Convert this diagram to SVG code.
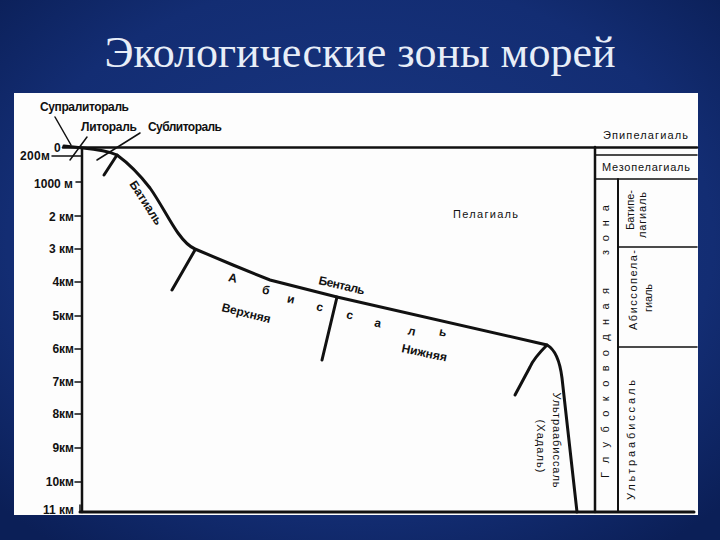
<svg xmlns="http://www.w3.org/2000/svg" width="720" height="540" viewBox="0 0 720 540">
<defs>
<radialGradient id="bg" cx="50%" cy="45%" r="70%">
<stop offset="0" stop-color="#1a3884"/>
<stop offset="0.7" stop-color="#132d73"/>
<stop offset="1" stop-color="#0b1f57"/>
</radialGradient>
<style>
.lbl{font-family:"Liberation Sans",Arial,sans-serif;font-size:12px;font-weight:bold;fill:#111}
.dep{font-family:"Liberation Sans",Arial,sans-serif;font-size:12px;font-weight:bold;fill:#111;text-anchor:end}
.thin{font-family:"Liberation Sans",Arial,sans-serif;font-size:11px;fill:#111}
.ln{stroke:#111;fill:none;stroke-linecap:round}
</style>
</defs>
<rect width="720" height="540" fill="url(#bg)"/>
<text x="360" y="67" text-anchor="middle" font-family="Liberation Serif, serif" font-size="44" fill="#e8eef8">Экологические зоны морей</text>
<rect x="14" y="93" width="684" height="422" fill="#fdfdfd"/>

<g id="connectors">
<line class="ln" x1="63" y1="147.5" x2="697" y2="147.5" stroke-width="2.5"/>
<line class="ln" x1="82" y1="148" x2="82" y2="512" stroke-width="2.5"/>
<line class="ln" x1="80" y1="512" x2="694" y2="512" stroke-width="3"/>
<line class="ln" x1="80" y1="505" x2="80" y2="512" stroke-width="1.5"/>
<line class="ln" x1="595" y1="147" x2="595" y2="512" stroke-width="2.5"/>
<line class="ln" x1="618" y1="179" x2="618" y2="512" stroke-width="2"/>
<line class="ln" x1="595" y1="155" x2="697" y2="155" stroke-width="1.5"/>
<line class="ln" x1="595" y1="179" x2="697" y2="179" stroke-width="1.5"/>
<line class="ln" x1="618" y1="247" x2="697" y2="247" stroke-width="1.5"/>
<line class="ln" x1="618" y1="347" x2="697" y2="347" stroke-width="1.5"/>
<path class="ln" stroke-width="3" d="M64,146 L83,148 C95,149 108,151 117,155 C128,163 140,175 150,188 C160,202 170,222 178,233 C183,240 188,246 195,249 L233,265 L270,280 L337,297 L547,345 C556,350 560,362 562,378 L577,512"/>
<line class="ln" x1="195" y1="250" x2="172" y2="290" stroke-width="3"/>
<line class="ln" x1="337" y1="297" x2="322" y2="360" stroke-width="3"/>
<path class="ln" stroke-width="3" d="M547,345 C540,352 533,360 530,367 L515,395"/>
<line class="ln" x1="117" y1="155" x2="104" y2="175" stroke-width="3"/>
<line class="ln" x1="55" y1="117" x2="71" y2="145" stroke-width="1.5"/>
<line class="ln" x1="87" y1="137" x2="70" y2="160" stroke-width="1.5"/>
<line class="ln" x1="140" y1="133" x2="97" y2="160" stroke-width="1.5"/>
<line class="ln" x1="52" y1="156" x2="82" y2="156" stroke-width="1.5"/>
<line class="ln" x1="76" y1="182" x2="82" y2="182" stroke-width="1.5"/>
<line class="ln" x1="75" y1="216" x2="82" y2="216" stroke-width="1.5"/>
<line class="ln" x1="75" y1="249" x2="82" y2="249" stroke-width="1.5"/>
<line class="ln" x1="75" y1="282" x2="82" y2="282" stroke-width="1.5"/>
<line class="ln" x1="75" y1="316" x2="82" y2="316" stroke-width="1.5"/>
<line class="ln" x1="75" y1="349" x2="82" y2="349" stroke-width="1.5"/>
<line class="ln" x1="75" y1="382" x2="82" y2="382" stroke-width="1.5"/>
<line class="ln" x1="75" y1="414" x2="82" y2="414" stroke-width="1.5"/>
<line class="ln" x1="75" y1="448" x2="82" y2="448" stroke-width="1.5"/>
<line class="ln" x1="75" y1="482" x2="82" y2="482" stroke-width="1.5"/>
</g>

<g id="depth-scale">
<text class="lbl" x="54" y="152">0</text>
<text class="lbl" x="20" y="160" textLength="30">200м</text>
<text class="dep" x="73" y="188">1000 м</text>
<text class="dep" x="74" y="221">2 км</text>
<text class="dep" x="74" y="253">3 км</text>
<text class="dep" x="74" y="286">4км</text>
<text class="dep" x="74" y="320">5км</text>
<text class="dep" x="74" y="353">6км</text>
<text class="dep" x="74" y="386">7км</text>
<text class="dep" x="74" y="418">8км</text>
<text class="dep" x="74" y="452">9км</text>
<text class="dep" x="74" y="486">10км</text>
<text class="dep" x="74" y="514">11 км</text>
</g>

<g id="supralittoral"><text class="lbl" x="40" y="111" textLength="89">Супралитораль</text></g>
<g id="littoral"><text class="lbl" x="81" y="131" textLength="56">Литораль</text></g>
<g id="sublittoral"><text class="lbl" x="148" y="131" textLength="74">Сублитораль</text></g>
<g id="bathyal"><text class="lbl" transform="translate(129,184) rotate(57)" textLength="50">Батиаль</text></g>
<g id="pelagial"><text class="thin" x="453" y="218" font-size="12" textLength="65">Пелагиаль</text></g>
<g id="benthal"><text class="lbl" transform="translate(318,284) rotate(13)" textLength="47">Бенталь</text></g>
<g id="abyssal" class="lbl" text-anchor="middle">
<text transform="translate(232,282) rotate(12)">А</text>
<text transform="translate(265,294) rotate(12)">б</text>
<text transform="translate(290,303) rotate(12)">и</text>
<text transform="translate(319,311) rotate(12)">с</text>
<text transform="translate(349,319) rotate(12)">с</text>
<text transform="translate(377,327) rotate(12)">а</text>
<text transform="translate(411,335) rotate(12)">л</text>
<text transform="translate(442,336) rotate(12)">ь</text>
</g>
<g id="upper"><text class="lbl" transform="translate(221,311) rotate(14)" textLength="50">Верхняя</text></g>
<g id="lower"><text class="lbl" transform="translate(401,352) rotate(12)" textLength="46">Нижняя</text></g>
<g id="hadal" class="thin" text-anchor="middle">
<text transform="translate(553,440) rotate(90)" textLength="95">Ультраабиссаль</text>
<text transform="translate(537,446) rotate(90)" textLength="53">(Хадаль)</text>
</g>

<g id="epipelagial"><text class="thin" x="603" y="139" textLength="85">Эпипелагиаль</text></g>
<g id="mesopelagial"><text class="thin" x="602" y="171" textLength="88">Мезопелагиаль</text></g>
<g id="bathypelagial" class="thin" text-anchor="middle">
<text transform="translate(634,210) rotate(-90)" textLength="40">Батипе-</text>
<text transform="translate(646,215) rotate(-90)" textLength="46">лагиаль</text>
</g>
<g id="abyssopelagial" class="thin" text-anchor="middle">
<text transform="translate(637,290) rotate(-90)" textLength="80">Абиссопела-</text>
<text transform="translate(652,298) rotate(-90)" textLength="28">гиаль</text>
</g>
<g id="ultraabyssal"><text class="thin" text-anchor="middle" transform="translate(635,440) rotate(-90)" textLength="120">Ультраабиссаль</text></g>
<g id="deep-zone" class="thin">
<text transform="translate(609,478) rotate(-90)" textLength="190" lengthAdjust="spacing">Глубоководная</text>
<text transform="translate(609,255) rotate(-90)" textLength="50" lengthAdjust="spacing">зона</text>
</g>
</svg>
